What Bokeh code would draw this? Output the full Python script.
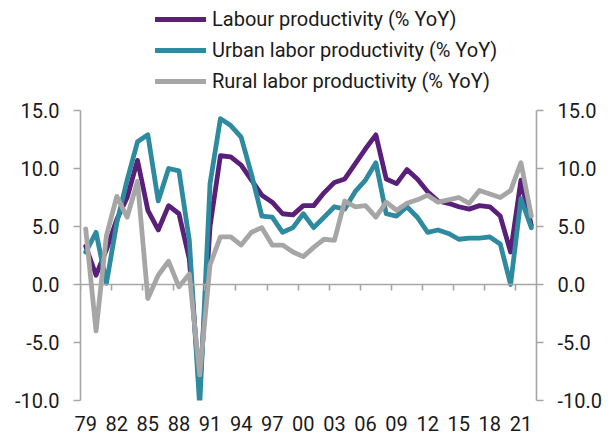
from bokeh.plotting import figure
from bokeh.models import (Range1d, LinearAxis, FixedTicker, Legend, LegendItem,
                          NumeralTickFormatter)
from bokeh.embed import file_html
from bokeh.resources import INLINE

# ---------------- data ----------------
years = list(range(1979, 2023))
labour = [3.3, 0.8, 3.0, 5.6, 7.5, 10.7, 6.4, 4.7, 6.8, 6.1,
          2.2, -9.0, 5.0, 11.1, 11.0, 10.3, 9.0, 7.7, 7.1, 6.1,
          6.0, 6.8, 6.8, 7.9, 8.8, 9.1, 10.4, 11.7, 12.9, 9.1,
          8.7, 9.9, 9.1, 8.0, 7.2, 7.0, 6.7, 6.5, 6.8, 6.7,
          5.9, 2.8, 9.0, 5.1]
urban = [2.8, 4.5, 0.1, 5.3, 9.0, 12.3, 12.9, 7.2, 10.0, 9.8,
         3.8, -10.5, 8.7, 14.3, 13.7, 12.7, 9.5, 5.9, 5.8, 4.5,
         4.9, 6.1, 4.9, 5.8, 6.7, 6.5, 8.0, 9.0, 10.5, 6.1,
         5.9, 6.7, 5.8, 4.5, 4.7, 4.4, 3.9, 4.0, 4.0, 4.1,
         3.5, 0.0, 7.4, 4.9]
rural = [4.8, -4.0, 4.2, 7.6, 5.8, 8.9, -1.2, 0.8, 2.0, -0.2,
         0.9, -7.8, 1.7, 4.1, 4.1, 3.4, 4.5, 4.9, 3.4, 3.4,
         2.8, 2.4, 3.2, 3.9, 3.8, 7.2, 6.7, 6.8, 5.8, 7.1,
         6.4, 7.0, 7.3, 7.7, 7.1, 7.3, 7.5, 7.0, 8.1, 7.8,
         7.5, 8.1, 10.5, 5.9]
series_names = ["Labour productivity (% YoY)",
                "Urban labor productivity (% YoY)",
                "Rural labor productivity (% YoY)"]
tick_years = list(range(1979, 2022, 3))
tick_labels = ["79", "82", "85", "88", "91", "94", "97", "00",
               "03", "06", "09", "12", "15", "18", "21"]
y_ticks = [-10, -5, 0, 5, 10, 15]
y_min, y_max = -10, 15

# ---------------- style / layout ----------------
PURPLE = "#5A1F78"
TEAL = "#2E8A9E"
GREY = "#A6A6A6"
AXIS = "#A6A6A6"
FONT = "Roboto"
TXT = "#1a1a1a"

W, H = 610, 439
TOP_GAP = 110          # pixels between top of page and the 15.0 level
BOTTOM = 39
plot_px = H - BOTTOM - TOP_GAP
y_top = y_max + TOP_GAP * (y_max - y_min) / plot_px   # room for the legend

p = figure(width=W, height=H, output_backend="svg", toolbar_location=None,
           x_range=Range1d(years[0] - 0.5, years[-1] + 0.5),
           y_range=Range1d(y_min, y_top),
           x_axis_location=None, y_axis_location=None,
           min_border_left=80, min_border_right=74,
           min_border_top=0, min_border_bottom=BOTTOM)
p.outline_line_color = None
p.background_fill_color = "white"
p.border_fill_color = "white"
p.xgrid.visible = False
p.ygrid.visible = False

lw = 4.8
r1 = p.line(years, labour, line_color=PURPLE, line_width=lw,
            line_join="round", line_cap="round")
r2 = p.line(years, urban, line_color=TEAL, line_width=lw,
            line_join="round", line_cap="round")
r3 = p.line(years, rural, line_color=GREY, line_width=lw,
            line_join="round", line_cap="round")


def style_y(ax):
    ax.ticker = FixedTicker(ticks=y_ticks)
    ax.formatter = NumeralTickFormatter(format="0.0")
    ax.bounds = (y_min, y_max)
    ax.axis_line_color = AXIS
    ax.axis_line_width = 1.6
    ax.major_tick_line_color = AXIS
    ax.major_tick_line_width = 1.6
    ax.major_tick_out = 7
    ax.major_tick_in = 0
    ax.minor_tick_line_color = None
    ax.major_label_standoff = 14
    ax.major_label_text_font = FONT
    ax.major_label_text_font_size = "20px"
    ax.major_label_text_color = TXT


yl = LinearAxis()
style_y(yl)
p.add_layout(yl, "left")
yr = LinearAxis()
style_y(yr)
p.add_layout(yr, "right")

# x axis line + tick marks at category boundaries, sitting at y = 0
boundaries = [t - 0.5 for t in tick_years]
xt = LinearAxis(ticker=FixedTicker(ticks=boundaries), fixed_location=0)
xt.axis_line_color = AXIS
xt.axis_line_width = 1.6
xt.major_tick_line_color = AXIS
xt.major_tick_line_width = 1.6
xt.major_tick_out = 6
xt.major_tick_in = 0
xt.minor_tick_line_color = None
xt.major_label_text_font_size = "0px"
xt.major_label_text_alpha = 0
xt.major_label_standoff = 0

# x tick labels at the bottom
xl = LinearAxis(ticker=FixedTicker(ticks=tick_years))
xl.major_label_overrides = dict(zip(tick_years, tick_labels))
xl.axis_line_color = None
xl.major_tick_line_color = None
xl.minor_tick_line_color = None
xl.major_tick_out = 0
xl.major_tick_in = 0
xl.minor_tick_out = 0
xl.major_label_standoff = 15
xl.major_label_text_font = FONT
xl.major_label_text_font_size = "20px"
xl.major_label_text_color = TXT

p.add_layout(xl, "below")
p.add_layout(xt, "below")

legend = Legend(items=[LegendItem(label=series_names[0], renderers=[r1]),
                       LegendItem(label=series_names[1], renderers=[r2]),
                       LegendItem(label=series_names[2], renderers=[r3])],
                location=(75, 307), orientation="vertical",
                glyph_width=51, glyph_height=20, label_height=20,
                spacing=7, padding=2, margin=0, label_standoff=6,
                label_text_font=FONT, label_text_font_size="20px",
                label_text_color=TXT,
                border_line_color=None, background_fill_alpha=0)
p.add_layout(legend, "center")

open("out.html", "w").write(file_html(p, INLINE))
